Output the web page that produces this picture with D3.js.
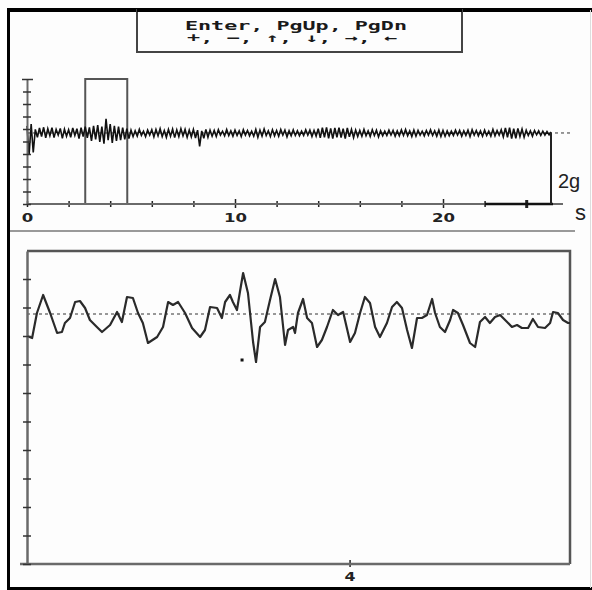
<!DOCTYPE html>
<html><head><meta charset="utf-8">
<script src="https://cdn.jsdelivr.net/npm/d3@7/dist/d3.min.js"></script>
<style>
html,body{margin:0;padding:0;background:#fdfdfd;}
svg{display:block;}
</style></head>
<body><svg id="c" width="592" height="590"></svg>
<script>
// ---------- DATA ----------
const headerLines = ["Enter, PgUp, PgDn", "+, \u2212, \u2191, \u2193, \u2192, \u2190"];
const overviewStep = 0.1; // s between samples
const overviewValues = [ // acceleration, g
 0.20,-0.62,0.25,-0.55,0.10,-0.12,0.14,-0.10,0.16,-0.14,
 0.12,-0.08,0.15,-0.13,0.10,-0.06,0.13,-0.15,0.11,-0.09,
 0.09,-0.12,0.14,-0.07,0.12,-0.16,0.15,-0.10,0.18,-0.14,
 0.16,-0.22,0.20,-0.18,0.22,-0.25,0.18,-0.30,0.40,-0.20,
 0.25,-0.28,0.20,-0.22,0.18,-0.20,0.15,-0.18,0.12,-0.16,
 0.08,-0.10,0.06,-0.09,0.10,-0.07,0.05,-0.10,0.08,-0.06,
 0.09,-0.11,0.10,-0.08,0.12,-0.10,0.07,-0.12,0.10,-0.09,
 0.11,-0.13,0.09,-0.10,0.12,-0.08,0.10,-0.12,0.08,-0.11,
 0.10,-0.14,0.08,-0.38,0.06,-0.15,0.10,-0.12,0.08,-0.09,
 0.07,-0.10,0.09,-0.06,0.05,-0.08,0.10,-0.07,0.06,-0.09,
 0.08,-0.07,0.06,-0.10,0.09,-0.06,0.07,-0.08,0.05,-0.09,
 0.10,-0.12,0.08,-0.09,0.11,-0.07,0.06,-0.10,0.09,-0.08,
 0.07,-0.09,0.10,-0.06,0.08,-0.11,0.06,-0.08,0.09,-0.07,
 0.06,-0.08,0.05,-0.07,0.09,-0.06,0.08,-0.10,0.07,-0.09,
 0.12,-0.14,0.15,-0.12,0.16,-0.15,0.13,-0.16,0.14,-0.12,
 0.15,-0.13,0.12,-0.16,0.14,-0.11,0.10,-0.13,0.08,-0.10,
 0.07,-0.09,0.10,-0.08,0.06,-0.10,0.09,-0.07,0.08,-0.11,
 0.06,-0.08,0.05,-0.07,0.08,-0.06,0.07,-0.09,0.06,-0.08,
 0.09,-0.07,0.10,-0.08,0.06,-0.10,0.08,-0.09,0.07,-0.06,
 0.05,-0.08,0.07,-0.06,0.09,-0.07,0.06,-0.09,0.08,-0.10,
 0.07,-0.09,0.06,-0.08,0.05,-0.07,0.08,-0.06,0.07,-0.09,
 0.06,-0.07,0.08,-0.10,0.09,-0.06,0.07,-0.08,0.06,-0.09,
 0.08,-0.07,0.05,-0.09,0.10,-0.08,0.07,-0.06,0.09,-0.11,
 0.14,-0.12,0.15,-0.16,0.12,-0.15,0.13,-0.10,0.11,-0.12,
 0.08,-0.07,0.06,-0.09,0.07,-0.05,0.06,-0.07,0.05,-0.06,
 0.04,-0.05,0.03
];
const overviewTicks = [0,2,4,6,8,10,12,14,16,18,20,22,24];
const overviewLabels = [0,10,20];
const overviewYDomain = [-2, 1.52];
const scaleBarG = 2;
const windowStart = 2.8, windowEnd = 4.82;

const detailTimes = [2.800,2.819,2.837,2.860,2.886,2.912,2.930,2.941,2.960,2.979,
 2.997,3.016,3.034,3.060,3.079,3.109,3.135,3.153,3.172,3.194,
 3.213,3.231,3.250,3.284,3.306,3.325,3.343,3.362,3.388,3.414,
 3.444,3.462,3.481,3.507,3.525,3.537,3.555,3.566,3.581,3.592,
 3.604,3.622,3.641,3.652,3.667,3.685,3.704,3.723,3.741,3.760,
 3.771,3.790,3.797,3.808,3.827,3.842,3.860,3.879,3.897,3.916,
 3.938,3.957,3.976,4.002,4.020,4.039,4.057,4.076,4.095,4.113,
 4.139,4.158,4.176,4.195,4.214,4.232,4.251,4.269,4.288,4.307,
 4.318,4.336,4.355,4.374,4.385,4.403,4.422,4.448,4.467,4.485,
 4.504,4.522,4.541,4.560,4.586,4.604,4.623,4.641,4.664,4.682,
 4.701,4.727,4.746,4.757,4.775,4.794,4.813,4.820];
const detailValues = [-0.22,-0.24,0.01,0.19,0.01,-0.19,-0.18,-0.09,-0.04,0.12,
 0.13,0.06,-0.06,-0.13,-0.18,-0.11,0.02,-0.08,0.17,0.16,
 0.01,-0.09,-0.29,-0.23,-0.13,0.12,0.09,0.12,0.01,-0.14,
 -0.23,-0.16,0.07,0.06,-0.04,0.12,0.19,0.12,0.04,0.22,
 0.41,0.21,-0.28,-0.48,-0.13,-0.08,0.14,0.35,0.17,-0.31,
 -0.16,-0.13,-0.19,0.01,0.15,-0.04,-0.09,-0.33,-0.26,-0.13,
 0.04,-0.01,0.02,-0.28,-0.19,0.01,0.17,0.11,-0.13,-0.23,
 -0.09,0.07,0.12,0.06,-0.16,-0.34,-0.04,-0.04,-0.01,0.15,
 0.01,-0.13,-0.18,-0.06,0.04,0.01,-0.11,-0.29,-0.33,-0.08,
 -0.03,-0.09,-0.03,-0.01,-0.08,-0.13,-0.11,-0.14,-0.14,-0.05,
 -0.13,-0.14,-0.09,0.02,0.01,-0.06,-0.09,-0.09];
const detailYDomain = [-2.5, 0.63];
const detailYTicks = [-2.5,-2.215,-1.93,-1.645,-1.36,-1.075,-0.79,-0.505,-0.22,0.065,0.35];
const detailXTicks = [4];
const cursorMark = {t: 3.60, v: -0.46};

// ---------- DRAW ----------
const svg = d3.select("#c");
const axisCol = "#6a6a6a";

// frame
svg.append("rect").attr("x",0).attr("y",0).attr("width",592).attr("height",590).attr("fill","#fdfdfd");
svg.append("line").attr("x1",7).attr("x2",592).attr("y1",10).attr("y2",10).attr("stroke","#000").attr("stroke-width",4);
svg.append("line").attr("x1",8.5).attr("x2",8.5).attr("y1",8).attr("y2",590).attr("stroke","#000").attr("stroke-width",3);
svg.append("line").attr("x1",7).attr("x2",592).attr("y1",588.5).attr("y2",588.5).attr("stroke","#000").attr("stroke-width",3);
svg.append("line").attr("x1",590.5).attr("x2",590.5).attr("y1",10).attr("y2",588).attr("stroke","#ddd").attr("stroke-width",1);

// header box
svg.append("rect").attr("x",137).attr("y",10).attr("width",325).attr("height",42)
  .attr("fill","#fdfdfd").attr("stroke","#444").attr("stroke-width",2);
svg.append("line").attr("x1",137).attr("x2",462).attr("y1",10).attr("y2",10).attr("stroke","#000").attr("stroke-width",4);
const hdr = svg.append("g").attr("font-family","DejaVu Sans Mono, monospace").attr("font-weight","bold")
  .attr("font-size",12).attr("fill","#1a1a1a");
hdr.append("text").attr("x",185).attr("y",29.5).attr("textLength",222).attr("lengthAdjust","spacingAndGlyphs").text(headerLines[0]);
hdr.append("text").attr("x",187).attr("y",42).attr("textLength",210).attr("lengthAdjust","spacingAndGlyphs").text(headerLines[1]);

// ----- overview panel -----
const xo = d3.scaleLinear().domain([0, 25]).range([27, 27 + 25*20.8]);
const yo = d3.scaleLinear().domain(overviewYDomain).range([204, 79]);

// dashed zero
svg.append("line").attr("x1",xo(0)).attr("x2",570).attr("y1",yo(0)).attr("y2",yo(0))
  .attr("stroke","#333").attr("stroke-width",1).attr("stroke-dasharray","3,3");

// window box
svg.append("rect").attr("x",xo(windowStart)).attr("y",yo(overviewYDomain[1]))
  .attr("width",xo(windowEnd)-xo(windowStart)).attr("height",yo(overviewYDomain[0])-yo(overviewYDomain[1]))
  .attr("fill","none").attr("stroke","#555").attr("stroke-width",2);

// trace
const overviewData = overviewValues.map((v,i)=>({t:i*overviewStep, v}));
svg.append("path").datum(overviewData)
  .attr("d", d3.line().x(d=>xo(d.t)).y(d=>yo(d.v)))
  .attr("fill","none").attr("stroke","#111").attr("stroke-width",1.6);

// x axis
const xAxisO = svg.append("g").attr("transform",`translate(0,${yo(overviewYDomain[0])})`)
  .call(d3.axisBottom(xo).tickValues(overviewTicks).tickSize(3).tickSizeOuter(0).tickFormat(d=>overviewLabels.includes(d)?d:""));
xAxisO.select(".domain").remove();
xAxisO.append("line").attr("x1",xo(0)).attr("x2",563).attr("y1",0).attr("y2",0).attr("stroke",axisCol).attr("stroke-width",2);
xAxisO.append("line").attr("x1",xo(22)).attr("x2",553).attr("y1",0).attr("y2",0).attr("stroke","#111").attr("stroke-width",2.5);
xAxisO.selectAll(".tick line").attr("y1",-3).attr("y2",3).attr("stroke","#222").attr("stroke-width",1.5);
xAxisO.selectAll(".tick").filter(d=>d===24).select("line").attr("stroke-width",3).attr("y1",-4).attr("y2",4);
xAxisO.selectAll(".tick").filter(d=>d===10||d===20).select("line").attr("y1",-5).attr("y2",4);
xAxisO.selectAll(".tick text").attr("y",9).attr("font-family","DejaVu Sans, sans-serif").attr("font-weight","bold")
  .attr("font-size",13).attr("fill","#222")
  .attr("textLength",d=>String(d).length*11.5).attr("lengthAdjust","spacingAndGlyphs");

// y axis
const yAxisO = svg.append("g").attr("transform",`translate(${xo(0)},0)`)
  .call(d3.axisLeft(yo).tickValues(d3.range(11).map(k=>overviewYDomain[0]+k*(overviewYDomain[1]-overviewYDomain[0])/10)).tickSize(4).tickSizeOuter(0).tickFormat(""));
yAxisO.select(".domain").attr("stroke",axisCol).attr("stroke-width",2);
yAxisO.selectAll(".tick line").attr("x1",-4).attr("x2",4).attr("stroke","#333").attr("stroke-width",1.5);
yAxisO.selectAll(".tick").filter((d,i)=>i===10).select("line").attr("x1",-5).attr("x2",6);

// scale bar
svg.append("line").attr("x1",551).attr("x2",551).attr("y1",yo(0)).attr("y2",yo(-scaleBarG))
  .attr("stroke","#222").attr("stroke-width",2);
svg.append("text").attr("x",558).attr("y",188).attr("font-family","Liberation Sans, Arial, sans-serif")
  .attr("font-size",20).attr("fill","#222").text(scaleBarG+"g");
svg.append("text").attr("x",575).attr("y",220).attr("font-family","Liberation Sans, Arial, sans-serif")
  .attr("font-size",22).attr("fill","#222").text("s");

// separator
svg.append("line").attr("x1",10).attr("x2",575).attr("y1",231).attr("y2",231).attr("stroke","#999").attr("stroke-width",2);

// ----- detail panel -----
const xd = d3.scaleLinear().domain([windowStart, windowEnd]).range([27, 570]);
const yd = d3.scaleLinear().domain(detailYDomain).range([564, 251]);

// box top & right
svg.append("path").attr("d",`M${xd(windowStart)},${yd(detailYDomain[1])}H${xd(windowEnd)}V${yd(detailYDomain[0])}`)
  .attr("fill","none").attr("stroke","#555").attr("stroke-width",2.5);

svg.append("line").attr("x1",xd(windowStart)).attr("x2",xd(windowEnd)).attr("y1",yd(0)).attr("y2",yd(0))
  .attr("stroke","#333").attr("stroke-width",1).attr("stroke-dasharray","3,3");

const detailData = detailTimes.map((t,i)=>({t, v:detailValues[i]}));
svg.append("path").datum(detailData)
  .attr("d", d3.line().x(d=>xd(d.t)).y(d=>yd(d.v)))
  .attr("fill","none").attr("stroke","#2a2a2a").attr("stroke-width",2.2).attr("stroke-linejoin","round");

svg.append("rect").attr("x",xd(cursorMark.t)-1.5).attr("y",yd(cursorMark.v)-1.5).attr("width",3).attr("height",3).attr("fill","#111");

const xAxisD = svg.append("g").attr("transform",`translate(0,${yd(detailYDomain[0])})`)
  .call(d3.axisBottom(xd).tickValues(detailXTicks).tickSize(3).tickSizeOuter(0).tickFormat(d3.format("d")));
xAxisD.select(".domain").remove();
xAxisD.append("line").attr("x1",20).attr("x2",xd(windowEnd)).attr("y1",0).attr("y2",0).attr("stroke",axisCol).attr("stroke-width",2.5);
xAxisD.selectAll(".tick line").attr("y1",-4).attr("y2",3).attr("stroke","#222").attr("stroke-width",1.5);
xAxisD.selectAll(".tick text").attr("y",8).attr("font-family","DejaVu Sans, sans-serif").attr("font-weight","bold")
  .attr("font-size",12).attr("fill","#222").attr("textLength",11).attr("lengthAdjust","spacingAndGlyphs");

const yAxisD = svg.append("g").attr("transform",`translate(${xd(windowStart)},0)`)
  .call(d3.axisLeft(yd).tickValues(detailYTicks).tickSize(4).tickSizeOuter(0).tickFormat(""));
yAxisD.select(".domain").attr("stroke",axisCol).attr("stroke-width",2.5);
yAxisD.selectAll(".tick line").attr("x1",-4).attr("x2",4).attr("stroke","#333").attr("stroke-width",1.5);
</script></body></html>
